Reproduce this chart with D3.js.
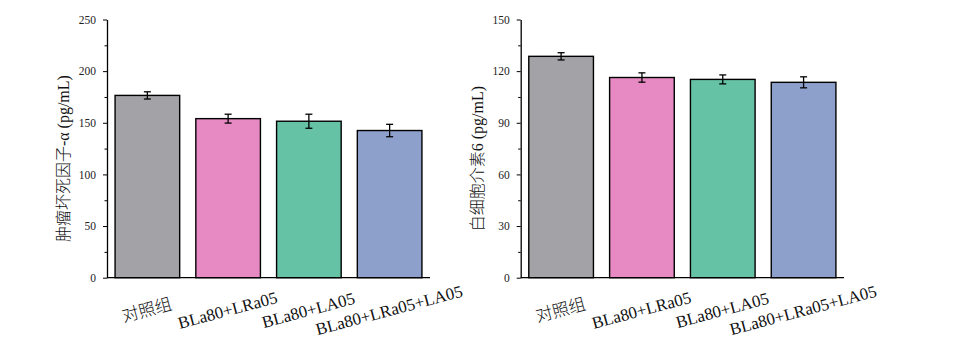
<!DOCTYPE html>
<html>
<head>
<meta charset="utf-8">
<script src="https://cdn.jsdelivr.net/npm/d3@7"></script>
<style>
  body { margin: 0; background: #fff; }
  text { font-family: "Liberation Serif", "Times New Roman", "Noto Sans CJK SC", serif; }
</style>
</head>
<body>
<svg id="chart" width="958" height="352"></svg>
<script>
// data
const groups = ["对照组", "BLa80+LRa05", "BLa80+LA05", "BLa80+LRa05+LA05"];
const tnfMean = [176.5, 154, 151.5, 142.5];
const tnfErr = [3.5, 4.3, 6.8, 6];
const il6Mean = [128.6, 116.3, 115.2, 113.5];
const il6Err = [2.1, 2.7, 2.6, 3.2];
const tnfTicks = [0, 50, 100, 150, 200, 250];
const il6Ticks = [0, 30, 60, 90, 120, 150];
const colors = ["#a3a3a7", "#e78ac3", "#66c2a5", "#8da0cb"];

const svg = d3.select("#chart");

function panel(left, right, ymax, ticks, means, errs, title) {
  let top = 19.5, bottom = 277.7;
  let g = svg.append("g");

  let x = d3.scaleBand().domain(groups).range([left, right])
    .paddingInner(0.2).paddingOuter(0.1);
  let y = d3.scaleLinear().domain([0, ymax]).range([bottom, top]);

  // bars
  g.selectAll(".bar").data(groups).enter().append("rect")
    .attr("x", d => x(d))
    .attr("y", (d, i) => y(means[i]))
    .attr("width", x.bandwidth())
    .attr("height", (d, i) => bottom - y(means[i]))
    .attr("fill", (d, i) => colors[i])
    .attr("stroke", "#000")
    .attr("stroke-width", 1.4);

  // error bars
  let eb = g.selectAll(".err").data(groups).enter().append("g")
    .attr("stroke", "#000").attr("stroke-width", 1.3);
  let cx = d => x(d) + x.bandwidth() / 2;
  eb.append("line")
    .attr("x1", cx).attr("x2", cx)
    .attr("y1", (d, i) => y(means[i] + errs[i]))
    .attr("y2", (d, i) => y(means[i] - errs[i]));
  eb.append("line")
    .attr("x1", d => cx(d) - 3.5).attr("x2", d => cx(d) + 3.5)
    .attr("y1", (d, i) => y(means[i] + errs[i]))
    .attr("y2", (d, i) => y(means[i] + errs[i]));
  eb.append("line")
    .attr("x1", d => cx(d) - 3.5).attr("x2", d => cx(d) + 3.5)
    .attr("y1", (d, i) => y(means[i] - errs[i]))
    .attr("y2", (d, i) => y(means[i] - errs[i]));

  // minor ticks
  let step = ticks[1] - ticks[0];
  let minor = ticks.slice(0, -1).map(t => t + step / 2);
  g.append("g").attr("transform", "translate(" + left + ",0)")
    .call(d3.axisLeft(y).tickValues(minor).tickSize(2.5).tickFormat(""))
    .call(a => a.select(".domain").remove());

  // y axis
  let ya = g.append("g").attr("transform", "translate(" + left + ",0)")
    .call(d3.axisLeft(y).tickValues(ticks).tickSize(4).tickPadding(7).tickSizeOuter(0));
  ya.select(".domain").attr("stroke-width", 1.3);
  ya.selectAll("text").attr("font-size", 11.5).attr("fill", "#222")
    .style("font-family", "'Liberation Serif', serif");

  // x axis line
  g.append("line")
    .attr("x1", left).attr("x2", right)
    .attr("y1", bottom).attr("y2", bottom)
    .attr("stroke", "#000").attr("stroke-width", 1.3);

  // rotated category labels
  g.selectAll(".xl").data(groups).enter().append("text")
    .attr("transform", d => "translate(" + cx(d) + "," + 312 + ") rotate(-15)")
    .attr("text-anchor", "middle")
    .attr("dominant-baseline", "middle")
    .attr("font-size", 17)
    .attr("font-weight", 300)
    .attr("fill", "#111")
    .text(d => d);

  // y title
  g.append("text")
    .attr("transform", "translate(" + (left - 38) + "," + ((top + bottom) / 2 + 10) + ") rotate(-90)")
    .attr("text-anchor", "middle")
    .attr("font-size", 16)
    .attr("font-weight", 300)
    .attr("fill", "#111")
    .text(title);
}

panel(107, 430, 250, tnfTicks, tnfMean, tnfErr, "肿瘤坏死因子-α (pg/mL)");
panel(520.7, 844, 150, il6Ticks, il6Mean, il6Err, "白细胞介素6 (pg/mL)");
</script>
</body>
</html>
